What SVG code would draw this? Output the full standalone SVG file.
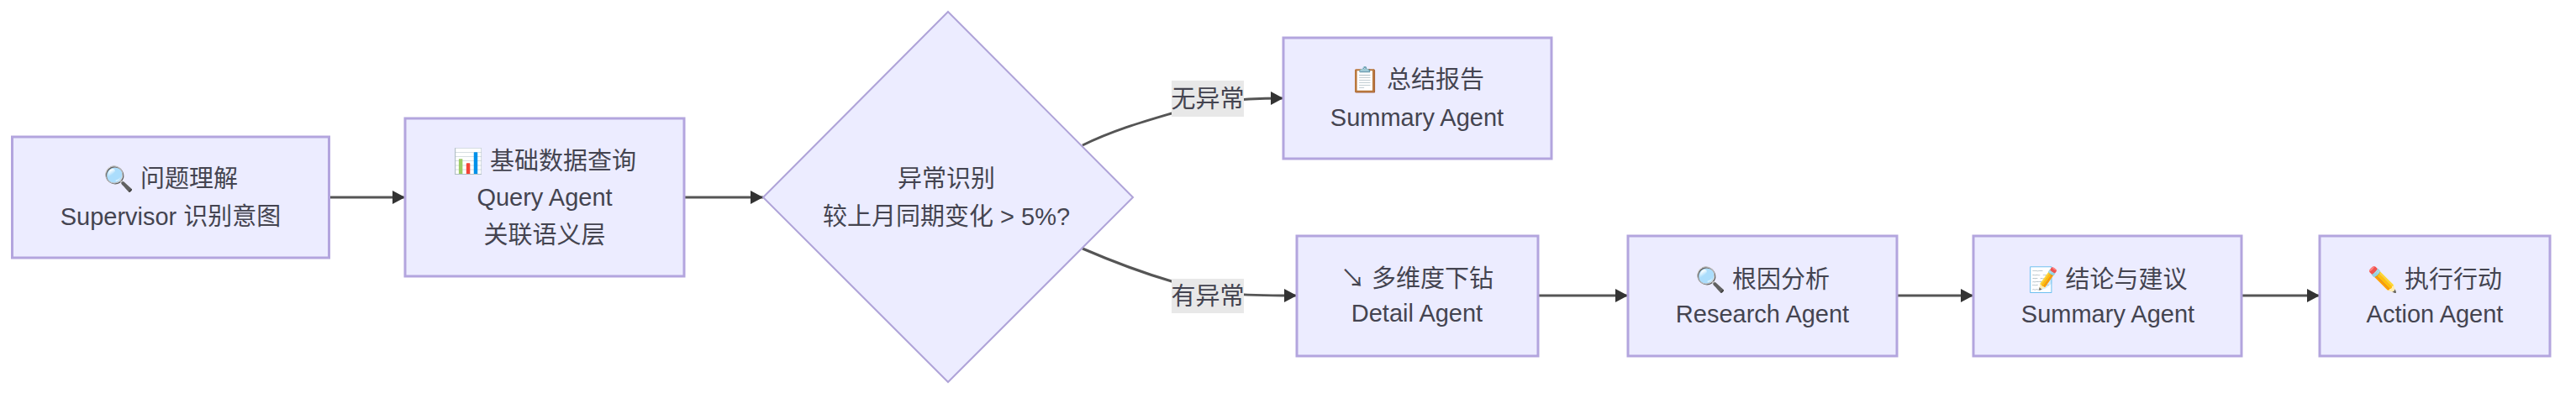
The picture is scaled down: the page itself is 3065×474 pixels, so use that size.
<svg xmlns="http://www.w3.org/2000/svg" width="3065" height="474" viewBox="0 0 3065 474">
<style>
.n{fill:#ECECFF;stroke:#B3A5DE;stroke-width:3}
.d{fill:#ECECFF;stroke:#AFA3D8;stroke-width:2}
text{font-family:"Liberation Sans","Noto Sans CJK SC",sans-serif;font-size:29px;fill:#444450;text-anchor:middle}
.e{fill:none;stroke:#555;stroke-width:3}
.lb{fill:#E8E8E8}
.a{fill:#333}
</style>
<defs><marker id="ah" markerUnits="userSpaceOnUse" markerWidth="16" markerHeight="16" refX="15" refY="8" orient="auto"><path class="a" d="M0 0L15 8L0 16z"/></marker></defs>
<rect width="3065" height="474" fill="#fff"/>
<g id="connectors">
<path class="e" marker-end="url(#ah)" d="M392 235H482"/>
<path class="e" marker-end="url(#ah)" d="M814 235H908"/>
<path class="e" marker-end="url(#ah)" d="M1288 173C1325 155 1360 145 1394 135C1430 122 1470 117 1527 117"/>
<path class="e" marker-end="url(#ah)" d="M1288 296C1325 312 1360 325 1394 335C1430 350 1470 352 1543 352"/>
<path class="e" marker-end="url(#ah)" d="M1830 352H1937"/>
<path class="e" marker-end="url(#ah)" d="M2257 352H2348"/>
<path class="e" marker-end="url(#ah)" d="M2667 352H2760"/>
<g id="label-no"><rect class="lb" x="1394" y="96" width="86" height="43"/><text x="1437" y="128">无异常</text></g>
<g id="label-yes"><rect class="lb" x="1394" y="332" width="86" height="41"/><text x="1437" y="363">有异常</text></g>
</g>
<g id="n1"><rect class="n" x="14.5" y="163" width="377" height="144"/><text x="203" y="223">🔍 问题理解</text><text x="203" y="268">Supervisor 识别意图</text></g>
<g id="n2"><rect class="n" x="482" y="141" width="332" height="188"/><text x="648" y="202">📊 基础数据查询</text><text x="648" y="245">Query Agent</text><text x="648" y="290">关联语义层</text></g>
<g id="n3"><polygon class="d" points="1128,14 1348,235 1128,455 908,235"/><text x="1126" y="223">异常识别</text><text x="1126" y="268">较上月同期变化 &gt; 5%?</text></g>
<g id="n4"><rect class="n" x="1527" y="45" width="319" height="144"/><text x="1686" y="105">📋 总结报告</text><text x="1686" y="150">Summary Agent</text></g>
<g id="n5"><rect class="n" x="1543" y="281" width="287" height="143"/><text x="1686" y="342">↘ 多维度下钻</text><text x="1686" y="383">Detail Agent</text></g>
<g id="n6"><rect class="n" x="1937" y="281" width="320" height="143"/><text x="2097" y="343">🔍 根因分析</text><text x="2097" y="384">Research Agent</text></g>
<g id="n7"><rect class="n" x="2348" y="281" width="319" height="143"/><text x="2508" y="343">📝 结论与建议</text><text x="2508" y="384">Summary Agent</text></g>
<g id="n8"><rect class="n" x="2760" y="281" width="274" height="143"/><text x="2897" y="343">✏️ 执行行动</text><text x="2897" y="384">Action Agent</text></g>
</svg>
